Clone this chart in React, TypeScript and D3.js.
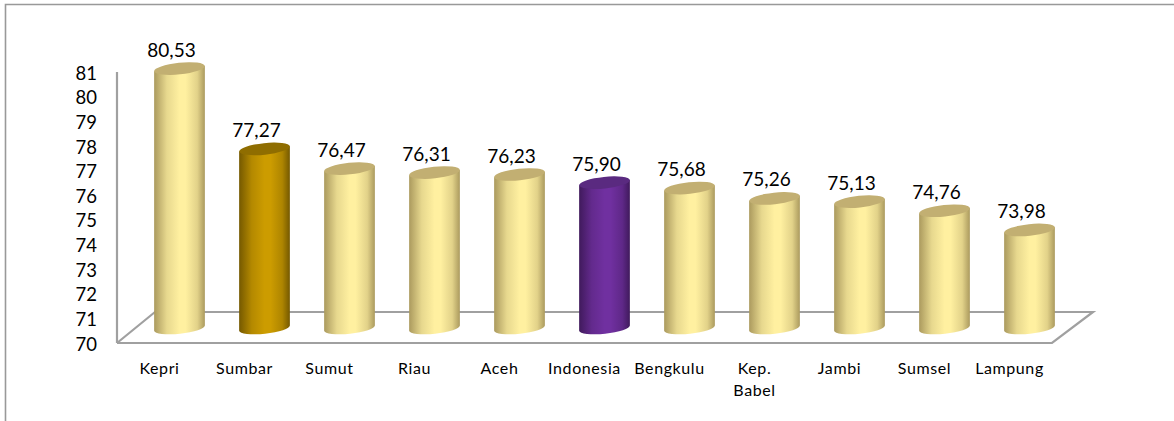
import React from 'react';
import * as d3 from 'd3';

const categories = ['Kepri', 'Sumbar', 'Sumut', 'Riau', 'Aceh', 'Indonesia', 'Bengkulu', 'Kep. Babel', 'Jambi', 'Sumsel', 'Lampung'];
const values = [80.53, 77.27, 76.47, 76.31, 76.23, 75.9, 75.68, 75.26, 75.13, 74.76, 73.98];
const yTicks = [70, 71, 72, 73, 74, 75, 76, 77, 78, 79, 80, 81];

const palettes: Record<string, { edge: string; mid: string; top: string }> = {
  normal: { edge: '#ab9a5e', mid: '#fff0a0', top: '#c2af72' },
  Sumbar: { edge: '#755900', mid: '#cc9c00', top: '#8f6d00' },
  Indonesia: { edge: '#401a5c', mid: '#7030a0', top: '#5a2a80' },
};

const FONT = 'Lato, "Open Sans", sans-serif';
const WIDTH = 1174;
const HEIGHT = 421;

const App: React.FC = () => {
  const x = d3.scaleBand<string>().domain(categories).range([117, 1052]);
  const y = d3.scaleLinear().domain([70, 81]).range([343, 72]);

  // the 3D floor pushes the cylinders back and to the right of their band
  const depthX = 20;
  const depthY = -15;
  const rx = 25.5;
  const ry = 5.8;
  const tilt = -6;

  const floor = d3.line()([
    [x.range()[0], y(70)],
    [x.range()[1], y(70)],
    [x.range()[1] + 41, y(70) - 31],
    [x.range()[0] + 38, y(70) - 31],
    [x.range()[0], y(70)],
  ]);

  return (
    <svg width={WIDTH} height={HEIGHT} style={{ position: 'absolute', left: 0, top: 0, background: '#fff' }}>
      <defs>
        {Object.entries(palettes).map(([k, p]) => (
          <linearGradient key={k} id={`grad-${k}`} x1="0" x2="1" y1="0" y2="0">
            <stop offset="0" stopColor={p.edge} />
            <stop offset="0.25" stopColor={d3.interpolateRgb(p.edge, p.mid)(0.72)} />
            <stop offset="0.5" stopColor={p.mid} />
            <stop offset="0.62" stopColor={p.mid} />
            <stop offset="0.85" stopColor={d3.interpolateRgb(p.edge, p.mid)(0.65)} />
            <stop offset="1" stopColor={p.edge} />
          </linearGradient>
        ))}
      </defs>

      {/* outer frame, cut by the page on the right and bottom */}
      <path d={`M5.5,${HEIGHT} V4.5 H${WIDTH}`} fill="none" stroke="#999" strokeWidth={1.6} />

      <path d={floor ?? ''} fill="none" stroke="#a0a0a0" strokeWidth={2.2} />
      <line x1={117} x2={117} y1={y(81)} y2={y(70)} stroke="#a0a0a0" strokeWidth={2.2} />

      {yTicks.map((t) => (
        <text key={t} x={97} y={y(t) + 1} dy="0.36em" textAnchor="end" fontFamily={FONT} fontSize={18.5} fill="#000">
          {t}
        </text>
      ))}

      {categories.map((c, i) => {
        const p = palettes[c] ?? palettes.normal;
        const gradId = palettes[c] ? `grad-${c}` : 'grad-normal';
        const cx = x(c)! + x.bandwidth() / 2 + depthX;
        const topY = y(values[i]) + depthY;
        const baseY = y(70) + depthY;
        const a = (tilt * Math.PI) / 180;
        const dx = rx * Math.cos(a);
        const dy = rx * Math.sin(a);
        const body = `M${cx - dx},${topY - dy} L${cx - dx},${baseY - dy} A${rx},${ry} ${tilt} 0 0 ${cx + dx},${baseY + dy} L${cx + dx},${topY + dy} Z`;
        return (
          <g key={c}>
            <path d={body} fill={`url(#${gradId})`} />
            <ellipse cx={cx} cy={topY} rx={rx} ry={ry} fill={p.top} transform={`rotate(${tilt} ${cx} ${topY})`} />
            <text x={cx - 8} y={topY - 12} textAnchor="middle" fontFamily={FONT} fontSize={19} fill="#000">
              {values[i].toFixed(2).replace('.', ',')}
            </text>
          </g>
        );
      })}

      {categories.map((c) => {
        const lx = x(c)! + x.bandwidth() / 2;
        const words = c === 'Kep. Babel' ? ['Kep.', 'Babel'] : [c];
        return (
          <text key={c} x={lx} y={374} textAnchor="middle" fontFamily={FONT} fontSize={16} letterSpacing={0.6} fill="#000">
            {words.map((w, i) => (
              <tspan key={w} x={lx} dy={i === 0 ? 0 : 22}>
                {w}
              </tspan>
            ))}
          </text>
        );
      })}
    </svg>
  );
};

export default App;
